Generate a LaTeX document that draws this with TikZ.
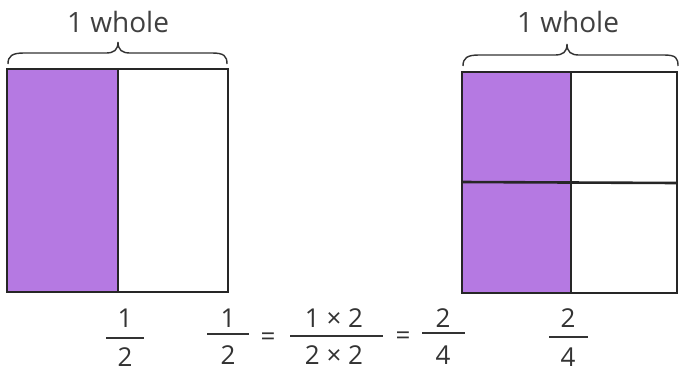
\documentclass[tikz,border=0pt]{standalone}
\usepackage{fontspec}
\setmainfont{Open Sans}
\definecolor{purp}{RGB}{181,121,226}
\begin{document}
\begin{tikzpicture}[x=1pt,y=-1pt,
  box/.style={line width=2.6pt, draw=black!85},
  brc/.style={line width=1.4pt, draw=black!80},
  lbl/.style={font=\fontsize{28}{30}\selectfont, text=black!75, inner sep=0pt},
  dig/.style={font=\fontsize{26}{28}\selectfont, text=black!80, inner sep=0pt},
  bar/.style={line width=1.5pt, draw=black!80}]
\useasboundingbox (0,0) rectangle (679,381);
% left square
\fill[purp] (8,70) rectangle (118,291);
\draw[box] (7,69) rectangle (228,292);
\draw[box] (118,69) -- (118,292);
% right square
\fill[purp] (463,73) rectangle (571,292);
\draw[box] (462,72) rectangle (677,293);
\draw[box] (571,72) -- (571,293);
\draw[box] (462,182) -- (677,183);
% braces
\draw[brc] (8,64) .. controls (8,56) and (12,53) .. (24,53) -- (106,53)
  .. controls (114,53) and (118,50) .. (118,42)
  .. controls (118,50) and (122,53) .. (130,53) -- (212,53)
  .. controls (224,53) and (227,56) .. (227,64);
\draw[brc] (463,66) .. controls (463,58) and (467,55) .. (479,55) -- (555,55)
  .. controls (563,55) and (567,52) .. (567,44)
  .. controls (567,52) and (571,55) .. (579,55) -- (664,55)
  .. controls (676,55) and (678,58) .. (678,66);
\node[lbl] (w1) at (118,22) {1 whole};
\node[lbl] (w2) at (568,22) {1 whole};
% left fraction
\node[dig] (a1) at (125,318) {1};
\node[dig] (a2) at (125,357) {2};
\draw[bar] (106,338) -- (144,338);
% equation
\node[dig] (b1) at (228,318) {1};
\node[dig] (b2) at (228,355) {2};
\draw[bar] (207,334) -- (249,334);
\node[dig] (e1) at (268,339) {=};
\node[dig] (c1) at (334,318) {1 × 2};
\node[dig] (c2) at (334,355) {2 × 2};
\draw[bar] (290,336) -- (383,336);
\node[dig] (e2) at (403,338) {=};
\node[dig] (d1) at (443,318) {2};
\node[dig] (d2) at (443,355) {4};
\draw[bar] (422,333) -- (465,333);
% right fraction
\node[dig] (f1) at (568,318) {2};
\node[dig] (f2) at (568,357) {4};
\draw[bar] (549,337) -- (588,337);
\end{tikzpicture}
\end{document}
